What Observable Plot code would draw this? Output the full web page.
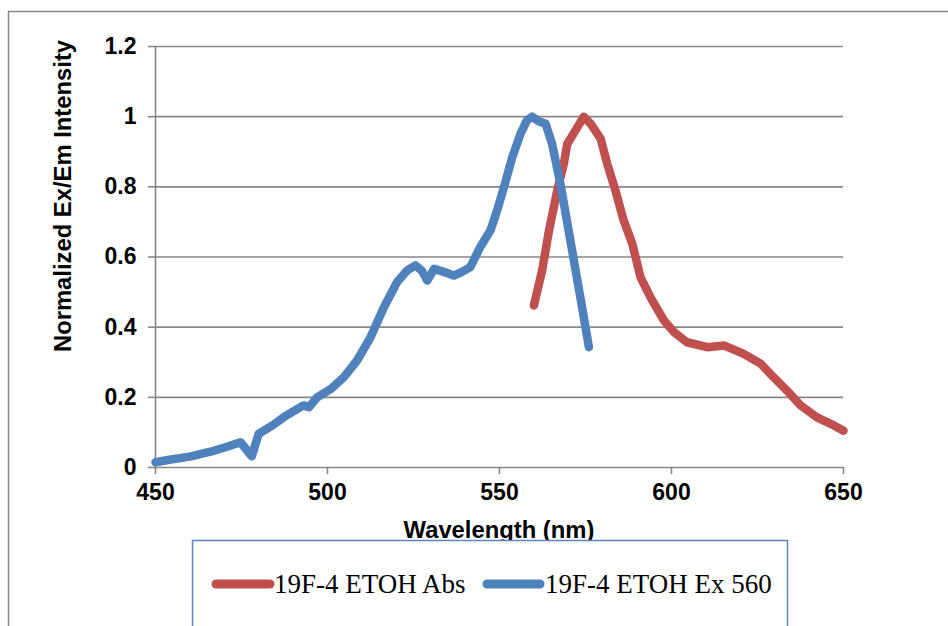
<!DOCTYPE html>
<html>
<head>
<meta charset="utf-8">
<script src="https://cdn.jsdelivr.net/npm/d3@7"></script>
<script src="https://cdn.jsdelivr.net/npm/@observablehq/plot@0.6"></script>
<style>
  html, body { margin: 0; padding: 0; background: #fff; }
  #chart { width: 948px; height: 626px; overflow: hidden; }
</style>
</head>
<body>
<div id="chart"></div>
<script>
// Series: 19F-4 ETOH Ex 560 (blue)
const exWavelength = [450, 454, 460, 466, 471, 474.7, 478, 480, 484, 488, 493, 494.6, 497, 501, 504.7, 508.6, 512.5, 516.4, 520.2, 523.2, 525.6, 527.5, 529, 531, 534, 536.7, 539, 541.5, 544.5, 547.4, 549.3, 551.3, 553.7, 556.1, 558, 559.5, 561.4, 563.4, 565.3, 567.7, 570.6, 573.5, 576];
const exIntensity  = [0.015, 0.022, 0.031, 0.045, 0.06, 0.072, 0.032, 0.096, 0.12, 0.148, 0.177, 0.172, 0.2, 0.224, 0.257, 0.305, 0.371, 0.457, 0.528, 0.562, 0.576, 0.56, 0.533, 0.566, 0.557, 0.547, 0.557, 0.571, 0.63, 0.676, 0.733, 0.799, 0.884, 0.951, 0.99, 1.0, 0.987, 0.98, 0.922, 0.809, 0.647, 0.485, 0.343];

// Series: 19F-4 ETOH Abs (red)
const absWavelength = [560, 562.4, 564.4, 566.8, 568.7, 569.7, 572.1, 574.5, 576.5, 579.4, 581.3, 583.7, 586.1, 588.6, 591, 593.9, 597.8, 600.7, 604.5, 610.4, 615.2, 621, 625.9, 629.7, 633.6, 637.5, 642.3, 647.2, 650];
const absIntensity  = [0.462, 0.562, 0.676, 0.79, 0.866, 0.922, 0.961, 1.0, 0.98, 0.937, 0.866, 0.79, 0.704, 0.638, 0.542, 0.485, 0.419, 0.386, 0.357, 0.343, 0.348, 0.324, 0.296, 0.257, 0.219, 0.177, 0.143, 0.12, 0.105];

const seriesNames = ["19F-4 ETOH Abs", "19F-4 ETOH Ex 560"];
const seriesColors = ["#C0504D", "#4F81BD"];
const xTicks = [450, 500, 550, 600, 650];
const yTicks = [0, 0.2, 0.4, 0.6, 0.8, 1, 1.2];
const xTitle = "Wavelength (nm)";
const yTitle = "Normalized Ex/Em Intensity";

const rows = [
  ...absWavelength.map((w, i) => ({series: seriesNames[0], w, v: absIntensity[i]})),
  ...exWavelength.map((w, i) => ({series: seriesNames[1], w, v: exIntensity[i]}))
];

const gray = "#878787";
const plot = Plot.plot({
  width: 948,
  height: 626,
  marginTop: 46,
  marginRight: 105,
  marginBottom: 159,
  marginLeft: 155,
  style: {fontFamily: "'Liberation Sans', Arial, sans-serif", fontWeight: "bold", fontSize: "23px", background: "#fff", color: "#000"},
  x: {domain: [450, 650], ticks: xTicks},
  y: {domain: [0, 1.2], ticks: yTicks},
  color: {domain: seriesNames, range: seriesColors},
  marks: [
    Plot.gridY(yTicks.filter(d => d > 0), {stroke: gray, strokeOpacity: 1, strokeWidth: 1.6}),
    Plot.axisY(yTicks, {tickSize: 7, tickPadding: 12, stroke: gray, strokeWidth: 1.6, fill: "#000", tickFormat: d => String(d), label: null}),
    Plot.axisX(xTicks, {tickSize: 7, tickPadding: 9, stroke: gray, strokeWidth: 1.6, fill: "#000", tickFormat: d => String(d), label: null}),
    Plot.ruleY([0], {stroke: gray, strokeWidth: 1.6}),
    Plot.ruleX([450], {stroke: gray, strokeWidth: 1.6}),
    Plot.line(rows, {x: "w", y: "v", z: "series", stroke: "series", strokeWidth: 8.5, strokeLinecap: "round", strokeLinejoin: "round"})
  ]
});

document.getElementById("chart").appendChild(plot);

// Decorations: outer frame, axis titles, legend
const svg = d3.select(plot);
svg.append("rect").attr("x", 8.5).attr("y", 11.5).attr("width", 1200).attr("height", 900)
  .attr("fill", "none").attr("stroke", gray).attr("stroke-width", 1.5);

svg.append("text").attr("transform", "translate(71,196) rotate(-90)")
  .attr("text-anchor", "middle").attr("font-size", 23.8).attr("font-weight", "bold")
  .attr("font-family", "'Liberation Sans', Arial, sans-serif").attr("fill", "#000").text(yTitle);

svg.append("text").attr("x", 499).attr("y", 538)
  .attr("text-anchor", "middle").attr("font-size", 23.8).attr("font-weight", "bold")
  .attr("font-family", "'Liberation Sans', Arial, sans-serif").attr("fill", "#000").text(xTitle);

const lg = svg.append("g");
lg.append("rect").attr("x", 192.5).attr("y", 540.5).attr("width", 595).attr("height", 200)
  .attr("fill", "#fff").attr("stroke", "#5B84C0").attr("stroke-width", 1.5);
const legendItems = [
  {name: seriesNames[0], color: seriesColors[0], x0: 216, x1: 270, tx: 274},
  {name: seriesNames[1], color: seriesColors[1], x0: 487, x1: 540, tx: 545}
];
legendItems.forEach(it => {
  lg.append("line").attr("x1", it.x0).attr("x2", it.x1).attr("y1", 584).attr("y2", 584)
    .attr("stroke", it.color).attr("stroke-width", 9).attr("stroke-linecap", "round");
  lg.append("text").attr("x", it.tx).attr("y", 593)
    .attr("text-anchor", "start").attr("font-weight", "normal")
    .attr("font-family", "'Liberation Serif', 'Times New Roman', serif").attr("font-size", 27)
    .attr("fill", "#000").text(it.name);
});
</script>
</body>
</html>
